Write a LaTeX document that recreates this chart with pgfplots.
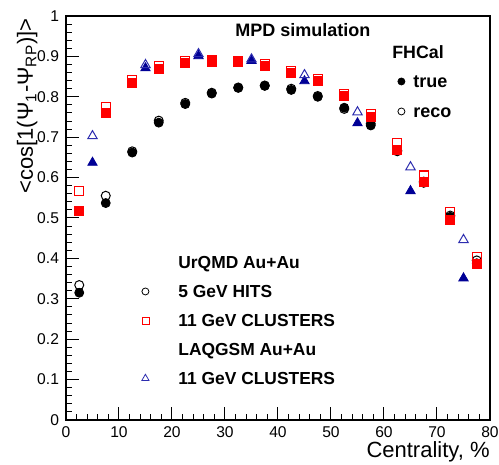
\documentclass[border=0pt]{standalone}
\usepackage{pgfplots}
\pgfplotsset{compat=1.18}
\usepackage{fontspec}
\setmainfont{Liberation Sans}
\definecolor{rootred}{RGB}{255,0,0}
\definecolor{navy}{RGB}{0,0,150}
\definecolor{lblue}{RGB}{45,45,175}
\pgfplotsset{
  base/.style={scale only axis, width=212pt, height=202pt, at={(0,0)}, anchor=south west,
    xmin=0, xmax=80, ymin=0, ymax=1, clip=false},
  legend image code/.code={\path[draw=none, fill=none] (-4pt,-3pt) (4pt,3pt); \draw[#1] plot coordinates {(0pt,0pt)};},
}
\begin{document}
\begin{tikzpicture}
\useasboundingbox (-33pt,-22.5pt) rectangle (216.5pt,210pt);
\begin{axis}[base,
  xtick={0,10,20,30,40,50,60,70,80},
  ytick={0,0.1,0.2,0.3,0.4,0.5,0.6,0.7,0.8,0.9,1},
  yticklabels={0,0.1,0.2,0.3,0.4,0.5,0.6,0.7,0.8,0.9,1},
  minor x tick num=4, minor y tick num=4,
  xtick pos=bottom, ytick pos=left, tick align=inside,
  major tick length=6.5pt, minor tick length=3.2pt,
  axis line style={line width=0.9pt},
  every tick/.style={black, line width=0.5pt},
  tick label style={font=\fontsize{7.8}{9}\selectfont},
  /pgf/number format/assume math mode=true,
  legend style={draw=none, fill=none, at={(axis cs:13.4,0.407)}, anchor=north west,
    inner sep=0pt, column sep=12.5pt, row sep=8pt,
    nodes={inner sep=0pt, text height=6.5pt, text depth=0pt,
      font=\bfseries\fontsize{8.7}{10}\selectfont}},
  legend cell align=left,
]
% UrQMD 5 GeV HITS, true
\addplot[only marks, mark=*, mark size=2.25pt, black, forget plot] coordinates {
(2.5,0.315)(7.5,0.537)(12.5,0.662)(17.5,0.736)(22.5,0.782)(27.5,0.808)(32.5,0.822)(37.5,0.827)
(42.5,0.817)(47.5,0.800)(52.5,0.773)(57.5,0.729)(62.5,0.665)(67.5,0.587)(72.5,0.503)(77.5,0.388)};
% UrQMD 5 GeV HITS, reco
\addplot[only marks, mark=o, mark size=2.25pt, black, mark options={line width=0.5pt}, forget plot] coordinates {
(2.5,0.334)(7.5,0.555)(12.5,0.665)(17.5,0.741)(22.5,0.785)(27.5,0.810)(32.5,0.823)(37.5,0.828)
(42.5,0.820)(47.5,0.802)(52.5,0.770)(57.5,0.733)(62.5,0.667)(67.5,0.590)(72.5,0.506)(77.5,0.395)};
% UrQMD 11 GeV CLUSTERS, true
\addplot[only marks, mark=square*, mark size=2.25pt, rootred, mark options={fill=rootred, draw=rootred}, forget plot] coordinates {
(2.5,0.518)(7.5,0.760)(12.5,0.835)(17.5,0.870)(22.5,0.885)(27.5,0.887)(32.5,0.886)(37.5,0.877)
(42.5,0.859)(47.5,0.840)(52.5,0.802)(57.5,0.750)(62.5,0.668)(67.5,0.589)(72.5,0.495)(77.5,0.386)};
% UrQMD 11 GeV CLUSTERS, reco
\addplot[only marks, mark=square, mark size=2.25pt, rootred, mark options={line width=0.6pt}, forget plot] coordinates {
(2.5,0.567)(7.5,0.774)(12.5,0.842)(17.5,0.876)(22.5,0.889)(27.5,0.890)(32.5,0.889)(37.5,0.882)
(42.5,0.864)(47.5,0.845)(52.5,0.806)(57.5,0.757)(62.5,0.686)(67.5,0.605)(72.5,0.515)(77.5,0.403)};
% LAQGSM 11 GeV CLUSTERS, true
\addplot[only marks, mark=triangle*, mark size=2.7pt, navy, mark options={fill=navy, draw=navy}, forget plot] coordinates {
(5,0.637)(15,0.871)(25,0.901)(35,0.889)(45,0.839)(55,0.735)(65,0.567)(75,0.351)};
% LAQGSM 11 GeV CLUSTERS, reco
\addplot[only marks, mark=triangle, mark size=2.7pt, lblue, mark options={line width=0.5pt}, forget plot] coordinates {
(5,0.703)(15,0.879)(25,0.906)(35,0.893)(45,0.854)(55,0.762)(65,0.626)(75,0.446)};

\addlegendimage{empty legend}
\addlegendentry{UrQMD Au+Au}
\addlegendimage{only marks, mark=o, mark size=1.75pt, black}
\addlegendentry{5 GeV HITS}
\addlegendimage{only marks, mark=square, mark size=1.75pt, rootred}
\addlegendentry{11 GeV CLUSTERS}
\addlegendimage{empty legend}
\addlegendentry{LAQGSM Au+Au}
\addlegendimage{only marks, mark=triangle, mark size=2.1pt, lblue}
\addlegendentry{11 GeV CLUSTERS}

\node[anchor=west, inner sep=0pt, font=\bfseries\fontsize{9}{10}\selectfont] at (axis cs:31.9,0.965) {MPD simulation};
\node[anchor=west, inner sep=0pt, font=\bfseries\fontsize{8.9}{10}\selectfont] at (axis cs:61.5,0.911) {FHCal};
\node[rotate=90, anchor=base east, inner sep=0pt, font=\fontsize{11}{12}\selectfont] at ([xshift=-16.5pt, yshift=-1pt]rel axis cs:0,1) {<cos[1(Ψ\textsubscript{1}-Ψ\textsubscript{RP})]>};
\node[anchor=base east, inner sep=0pt, font=\fontsize{11}{12}\selectfont] at ([yshift=-19pt]rel axis cs:1,0) {Centrality, \%};
\end{axis}
\begin{axis}[base, hide axis,
  legend style={draw=none, fill=none, at={(axis cs:61.7,0.855)}, anchor=north west,
    inner sep=0pt, column sep=2pt, row sep=8.5pt,
    nodes={inner sep=0pt, text height=6.5pt, text depth=0pt,
      font=\bfseries\fontsize{9}{10}\selectfont}},
  legend cell align=left,
]
\addlegendimage{only marks, mark=*, mark size=1.75pt, black}
\addlegendentry{true}
\addlegendimage{only marks, mark=o, mark size=1.75pt, black}
\addlegendentry{reco}
\end{axis}
\end{tikzpicture}
\end{document}
